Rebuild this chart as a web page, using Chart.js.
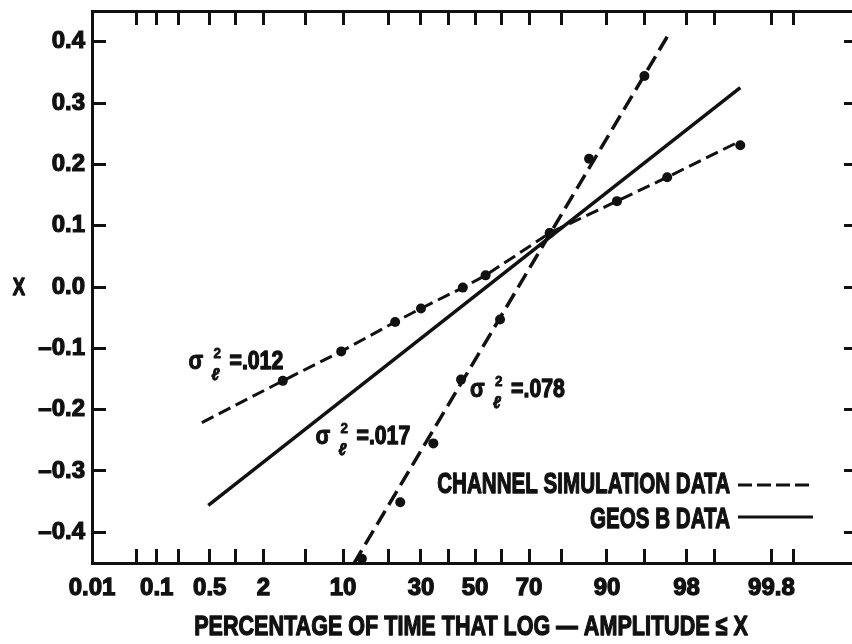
<!DOCTYPE html>
<html><head><meta charset="utf-8">
<script src="https://cdn.jsdelivr.net/npm/chart.js@4/dist/chart.umd.min.js"></script>
<style>
html,body{margin:0;padding:0;background:#fff;overflow:hidden;width:852px;height:644px}
#wrap{position:absolute;left:0;top:0;width:870px;height:644px}
</style></head><body>
<div id="wrap"><canvas id="c" width="870" height="644"></canvas></div>
<script>
// ---------- data ----------
const xTickPercents = [0.01,0.05,0.1,0.2,0.5,1,2,5,10,20,30,40,50,60,70,80,90,95,98,99,99.8,99.9,99.99];
const xLabeledPercents = [0.01,0.1,0.5,2,10,30,50,70,90,98,99.8];
const xRangePercents = [0.01, 99.99];
const yTickValues = [-0.4,-0.3,-0.2,-0.1,0,0.1,0.2,0.3,0.4];
const yRange = [-0.45, 0.45];

// channel simulation, sigma^2 = .012
const simLowPercents = [3.1, 9.7, 21.9, 30.0, 45.3, 54.1, 76.6, 91.6, 96.9, 99.5];
const simLowValues   = [-0.153, -0.105, -0.057, -0.035, -0.001, 0.019, 0.088, 0.140, 0.179, 0.231];
const simLowLinePercents = [0.40, 3.1, 9.7, 21.9, 30.0, 45.3, 54.1, 76.6, 91.6, 96.9, 99.5];
const simLowLineValues   = [-0.221, -0.153, -0.105, -0.057, -0.035, -0.001, 0.019, 0.088, 0.140, 0.179, 0.238];

// channel simulation, sigma^2 = .078
const simHighPercents = [13.6, 23.4, 34.3, 44.6, 59.6, 76.6, 86.6, 95.0];
const simHighValues   = [-0.443, -0.351, -0.255, -0.151, -0.053, 0.088, 0.209, 0.344];
const simHighLinePercents = [11.9, 96.9];
const simHighLineValues   = [-0.452, 0.408];

// GEOS B data, sigma^2 = .017
const geosLinePercents = [0.48, 99.5];
const geosLineValues   = [-0.356, 0.325];

// annotation texts and anchors (percent, value)
const annotTexts    = ['=.012', '=.078', '=.017'];
const annotPercents = [0.27, 48.1, 6.07];
const annotValues   = [-0.134, -0.180, -0.256];

const legendLabels = ['CHANNEL SIMULATION DATA', 'GEOS B DATA'];
const xTitle = 'PERCENTAGE OF TIME THAT LOG \u2014 AMPLITUDE \u2264 X';
const yTitle = 'X';

// ---------- probability scale ----------
function probit(p){
  const a=[-3.969683028665376e+01,2.209460984245205e+02,-2.759285104469687e+02,1.383577518672690e+02,-3.066479806614716e+01,2.506628277459239e+00];
  const b=[-5.447609879822406e+01,1.615858368580409e+02,-1.556989798598866e+02,6.680131188771972e+01,-1.328068155288572e+01];
  const c=[-7.784894002430293e-03,-3.223964580411365e-01,-2.400758277161838e+00,-2.549732539343734e+00,4.374664141464968e+00,2.938163982698783e+00];
  const d=[7.784695709041462e-03,3.224671290700398e-01,2.445134137142996e+00,3.754408661907416e+00];
  const pl=0.02425, ph=1-pl; let q,r;
  if(p<pl){q=Math.sqrt(-2*Math.log(p));return (((((c[0]*q+c[1])*q+c[2])*q+c[3])*q+c[4])*q+c[5])/((((d[0]*q+d[1])*q+d[2])*q+d[3])*q+1);}
  if(p<=ph){q=p-0.5;r=q*q;return (((((a[0]*r+a[1])*r+a[2])*r+a[3])*r+a[4])*r+a[5])*q/(((((b[0]*r+b[1])*r+b[2])*r+b[3])*r+b[4])*r+1);}
  q=Math.sqrt(-2*Math.log(1-p));return -(((((c[0]*q+c[1])*q+c[2])*q+c[3])*q+c[4])*q+c[5])/((((d[0]*q+d[1])*q+d[2])*q+d[3])*q+1);
}
const zOf = pct => probit(pct/100);
const pts = (ps, vs) => ps.map((p,i)=>({x:zOf(p), y:vs[i]}));

const FONT = "'Liberation Sans','Arial',sans-serif";
const BLACK = '#111';

function setXTicks(s){ s.ticks = xTickPercents.map(p=>({value:zOf(p)})); }
function setYTicks(s){ s.ticks = yTickValues.map(v=>({value:v})); }
function xLabel(v, i){ const p = xTickPercents[i]; return xLabeledPercents.includes(p) ? String(p) : ''; }
function yLabel(v){ if (Math.abs(v) < 1e-9) return '0.0'; return v < 0 ? '\u2013' + Math.abs(v).toFixed(1) : v.toFixed(1); }
function noPad(s){ s.paddingLeft = 0; s.paddingRight = 0; s.paddingTop = 0; s.paddingBottom = 0; }

const gridOpts = { drawOnChartArea:false, drawTicks:true, tickLength:-14, tickWidth:3, color:BLACK };
const borderOpts = { display:true, width:3, color:BLACK };

function drawText(ctx, text, x, y, size, align, sx, style, sw){
  ctx.save();
  ctx.font = `${style || 'bold'} ${size}px ${FONT}`;
  ctx.translate(x, y); ctx.scale(sx, 1);
  ctx.textAlign = align; ctx.textBaseline = 'alphabetic';
  ctx.lineWidth = sw === undefined ? 1.3 : sw; ctx.lineJoin = 'round';
  ctx.strokeStyle = BLACK; ctx.fillStyle = BLACK;
  if (ctx.lineWidth > 0) ctx.strokeText(text, 0, 0);
  ctx.fillText(text, 0, 0);
  ctx.restore();
}

const overlay = {
  id:'overlay',
  afterDraw(chart){
    const {ctx, chartArea:ca, scales} = chart;
    const xs = scales.x, ys = scales.y;
    ctx.save();
    ctx.fillStyle = BLACK; ctx.strokeStyle = BLACK;
    // y axis name (upright)
    drawText(ctx, yTitle, ca.left - 73, ys.getPixelForValue(0) + 8, 23, 'center', 0.8);
    // x axis name
    drawText(ctx, xTitle, (ca.left + ca.right) / 2 - 4, ca.bottom + 72, 28, 'center', 0.77);
    // sigma annotations
    annotTexts.forEach((t,i)=>{
      const x = xs.getPixelForValue(zOf(annotPercents[i]));
      const y = ys.getPixelForValue(annotValues[i]);
      drawText(ctx, '\u03c3', x, y, 25, 'left', 0.86, 'bold', 1);
      drawText(ctx, '2', x+25, y-11, 15, 'left', 0.9, 'bold', 0.8);
      drawText(ctx, '\u2113', x+23, y+11, 17, 'left', 0.9, 'italic bold', 1);
      drawText(ctx, t, x+41, y, 25, 'left', 0.85);
    });
    // legend
    drawText(ctx, legendLabels[0], ca.right-128, ca.bottom-70, 29, 'right', 0.71);
    drawText(ctx, legendLabels[1], ca.right-128, ca.bottom-35, 29, 'right', 0.71);
    ctx.lineWidth = 3;
    ctx.setLineDash([14,5]);
    ctx.beginPath(); ctx.moveTo(ca.right-120, ca.bottom-78); ctx.lineTo(ca.right-45, ca.bottom-78); ctx.stroke();
    ctx.setLineDash([]);
    ctx.beginPath(); ctx.moveTo(ca.right-120, ca.bottom-46); ctx.lineTo(ca.right-45, ca.bottom-46); ctx.stroke();
    ctx.restore();
  }
};

const lineDs = (data, dash, w) => ({ type:'line', data, borderColor:BLACK, borderWidth:w, borderDash:dash, pointRadius:0, fill:false, tension:0 });
const pointDs = data => ({ type:'scatter', data, showLine:false, pointRadius:5, pointHoverRadius:5, backgroundColor:BLACK, borderColor:BLACK, borderWidth:0 });

new Chart(document.getElementById('c'), {
  type:'scatter',
  data:{ datasets:[
    lineDs(pts(simLowLinePercents, simLowLineValues), [13,6], 3),
    lineDs(pts(simHighLinePercents, simHighLineValues), [16,7], 3.5),
    lineDs(pts(geosLinePercents, geosLineValues), [], 3.5),
    pointDs(pts(simLowPercents, simLowValues)),
    pointDs(pts(simHighPercents, simHighValues))
  ]},
  options:{
    responsive:false, animation:false, devicePixelRatio:1,
    layout:{ padding:0 },
    plugins:{ legend:{display:false}, tooltip:{enabled:false} },
    scales:{
      x:{ type:'linear', position:'bottom', min:zOf(xRangePercents[0]), max:zOf(xRangePercents[1]),
          afterBuildTicks:setXTicks, afterFit:s=>{ s.height = 81; noPad(s); },
          grid:gridOpts, border:borderOpts,
          ticks:{ autoSkip:false, maxRotation:0, minRotation:0, padding:25, color:BLACK, textStrokeColor:BLACK, textStrokeWidth:1.3,
                  font:{family:FONT, size:24, weight:'bold'}, callback:xLabel } },
      x2:{ type:'linear', position:'top', min:zOf(xRangePercents[0]), max:zOf(xRangePercents[1]),
          afterBuildTicks:setXTicks, afterFit:s=>{ s.height = 11; noPad(s); },
          grid:gridOpts, border:borderOpts, ticks:{ display:false } },
      y:{ type:'linear', position:'left', min:yRange[0], max:yRange[1],
          afterBuildTicks:setYTicks, afterFit:s=>{ s.width = 92; noPad(s); },
          grid:gridOpts, border:borderOpts,
          ticks:{ padding:21, color:BLACK, textStrokeColor:BLACK, textStrokeWidth:1.2,
                  font:{family:FONT, size:24, weight:'bold'}, callback:yLabel } },
      y2:{ type:'linear', position:'right', min:yRange[0], max:yRange[1],
          afterBuildTicks:setYTicks, afterFit:s=>{ s.width = 12; noPad(s); },
          grid:gridOpts, border:borderOpts, ticks:{ display:false } }
    }
  },
  plugins:[overlay]
});
</script>
</body></html>
